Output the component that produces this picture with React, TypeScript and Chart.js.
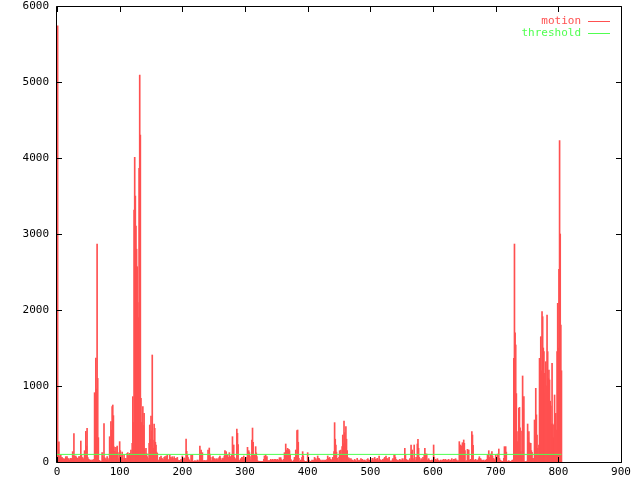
import React, { useEffect, useRef } from "react";
import { Chart, registerables } from "chart.js";

Chart.register(...registerables);

// motion values, one per frame index (x = index)
const motion: number[] = [
  2092, 5738, 160, 267, 70, 41, 92, 55,
  60, 44, 28, 44, 35, 18, 70, 52,
  70, 44, 31, 44, 26, 12, 48, 36,
  48, 136, 58, 373, 79, 45, 79, 62,
  48, 48, 27, 70, 70, 38, 276, 90,
  57, 57, 34, 44, 149, 66, 403, 210,
  443, 61, 40, 31, 26, 14, 26, 9,
  26, 26, 15, 35, 912, 540, 1368, 960,
  2869, 1100, 320, 20, 20, 8, 10, 5,
  123, 70, 36, 504, 57, 30, 44, 21,
  70, 26, 14, 44, 333, 190, 531, 420,
  728, 750, 610, 200, 140, 85, 193, 120,
  210, 48, 30, 123, 268, 150, 92, 64,
  131, 48, 26, 92, 48, 33, 48, 22,
  114, 123, 80, 92, 114, 70, 158, 96,
  246, 860, 520, 3316, 4009, 3500, 3105, 2800,
  2570, 2096, 1900, 3864, 5090, 4300, 838, 520,
  355, 728, 480, 640, 158, 90, 180, 110,
  70, 48, 25, 246, 487, 300, 605, 410,
  1408, 290, 180, 500, 443, 260, 224, 130,
  114, 26, 12, 26, 61, 35, 79, 50,
  44, 35, 20, 61, 70, 42, 79, 55,
  92, 35, 22, 18, 92, 60, 57, 31,
  70, 48, 27, 70, 48, 30, 48, 25,
  61, 26, 14, 18, 18, 9, 35, 20,
  79, 48, 30, 53, 48, 26, 303, 140,
  96, 61, 40, 26, 13, 6, 88, 50,
  92, 13, 7, 4, 18, 10, 13, 6,
  26, 13, 8, 26, 210, 120, 158, 90,
  123, 18, 10, 18, 18, 9, 18, 11,
  26, 158, 90, 184, 105, 60, 18, 9,
  61, 70, 45, 44, 35, 19, 44, 28,
  26, 44, 25, 61, 79, 50, 26, 14,
  44, 53, 31, 79, 149, 95, 136,
  79, 92, 58, 61, 123, 75, 61, 40,
  92, 333, 190, 224, 61, 35, 44, 26,
  434, 377, 230, 26, 18, 10, 44, 24,
  61, 61, 38, 79, 44, 27, 35, 18,
  61, 193, 110, 149, 123, 70, 26, 15,
  290, 447, 260, 26, 92, 55, 202, 120,
  70, 18, 9, 10, 10, 5, 10, 4,
  10, 10, 6, 35, 79, 48, 92, 60,
  70, 18, 9, 18, 18, 8, 35, 20,
  26, 35, 22, 26, 35, 19, 35, 24,
  26, 35, 20, 18, 57, 33, 57, 30,
  26, 13, 6, 35, 123, 80, 237, 150,
  158, 180, 130, 167, 149, 100, 35, 18,
  13, 4, 2, 26, 61, 36, 158, 90,
  412, 421, 260, 48, 9, 4, 26, 14,
  61, 136, 80, 18, 9, 5, 4, 2,
  10, 123, 60, 26, 13, 7, 9, 4,
  26, 13, 7, 26, 61, 37, 44, 25,
  26, 79, 45, 48, 35, 20, 18, 9,
  26, 13, 6, 26, 18, 10, 26, 14,
  35, 79, 47, 26, 61, 38, 35, 20,
  18, 61, 35, 136, 518, 300, 224, 130,
  48, 26, 14, 61, 149, 90, 158, 100,
  202, 355, 240, 540, 386, 250, 465, 300,
  149, 61, 35, 53, 26, 14, 44, 25,
  26, 18, 9, 18, 35, 20, 13, 6,
  48, 18, 10, 26, 13, 7, 44, 24,
  35, 26, 14, 18, 26, 15, 13, 7,
  35, 44, 25, 26, 20, 10, 18, 9,
  48, 26, 15, 44, 61, 36, 35, 19,
  48, 26, 13, 79, 35, 20, 26, 13,
  18, 35, 20, 44, 61, 35, 79, 46,
  26, 44, 25, 61, 18, 9, 13, 6,
  26, 44, 26, 92, 92, 60, 35, 18,
  18, 26, 14, 13, 35, 20, 26, 12,
  44, 26, 13, 44, 180, 100, 35, 19,
  26, 18, 10, 26, 44, 24, 224, 130,
  158, 44, 26, 224, 26, 14, 61, 36,
  237, 298, 180, 61, 26, 13, 44, 25,
  26, 61, 36, 92, 180, 110, 70,
  105, 26, 14, 44, 26, 15, 18, 9,
  26, 20, 11, 224, 61, 36, 35, 19,
  26, 44, 24, 18, 13, 7, 26, 14,
  13, 26, 14, 35, 26, 15, 35, 19,
  18, 26, 13, 35, 18, 9, 26, 14,
  44, 18, 10, 35, 35, 20, 44, 24,
  26, 13, 7, 18, 268, 160, 224, 140,
  210, 254, 170, 290, 246, 150, 13, 6,
  18, 167, 100, 158, 26, 14, 35, 19,
  400, 355, 220, 13, 26, 14, 35, 18,
  13, 26, 13, 44, 70, 42, 44, 25,
  26, 18, 9, 26, 13, 6, 26, 13,
  35, 92, 55, 149, 61, 36, 105, 62,
  136, 79, 46, 44, 30, 16, 92, 54,
  35, 105, 60, 171, 48, 26, 18, 9,
  13, 9, 4, 48, 202, 120, 202, 130,
  13, 0, 3, 18, 9, 4, 9, 5,
  18, 26, 13, 1364, 2868, 1700, 1540, 900,
  399, 268, 160, 706, 719, 450, 136, 80,
  408, 1132, 700, 860, 4, 2, 4, 1,
  13, 500, 320, 399, 254, 160, 246, 150,
  127, 48, 26, 48, 553, 330, 969, 620,
  355, 180, 100, 224, 1364, 900, 1649, 1200,
  1978, 1912, 1500, 1452, 1167, 900, 1320, 1000,
  1934, 1452, 1100, 1211, 1079, 800, 737, 500,
  1298, 500, 320, 487, 882, 600, 640, 420,
  1452, 2088, 1500, 2535, 4228, 3000, 1803, 1200,
];

const thresholdX: number[] = [0, 805];
const thresholdY: number[] = [100, 100];

const xTicks: number[] = [0, 100, 200, 300, 400, 500, 600, 700, 800, 900];
const yTicks: number[] = [0, 1000, 2000, 3000, 4000, 5000, 6000];

const seriesNames: string[] = ["motion", "threshold"];

const RED = "#ff5050";
const GREEN = "#50ff50";
const FONT = '11px "DejaVu Sans Mono", monospace';

const framePlugin = {
  id: "gnuplotFrame",
  afterDraw(chart: any) {
    const { ctx, chartArea } = chart;
    const { left, right, top, bottom } = chartArea;
    const xs = chart.scales.x;
    const ys = chart.scales.y;
    ctx.save();
    ctx.strokeStyle = "#000";
    ctx.lineWidth = 1;
    ctx.beginPath();
    ctx.rect(left - 0.5, top + 0.5, right - left + 1, bottom - top);
    // y ticks, mirrored
    yTicks.forEach((v) => {
      const py = Math.round(ys.getPixelForValue(v)) + 0.5;
      ctx.moveTo(left - 0.5, py);
      ctx.lineTo(left + 5, py);
      ctx.moveTo(right + 0.5, py);
      ctx.lineTo(right - 5, py);
    });
    // x ticks, mirrored
    xTicks.forEach((v) => {
      const px = Math.round(xs.getPixelForValue(v)) + 0.5;
      ctx.moveTo(px, bottom + 0.5);
      ctx.lineTo(px, bottom - 5);
      ctx.moveTo(px, top + 0.5);
      ctx.lineTo(px, top + 6);
    });
    ctx.stroke();

    // legend (text right-aligned, then line sample)
    ctx.font = FONT;
    ctx.textAlign = "right";
    ctx.textBaseline = "middle";
    const colors = [RED, GREEN];
    const rowsY = [21, 33];
    seriesNames.forEach((name, k) => {
      ctx.fillStyle = colors[k];
      ctx.fillText(name, 581, rowsY[k]);
      ctx.strokeStyle = colors[k];
      ctx.beginPath();
      ctx.moveTo(588, rowsY[k] + 0.5);
      ctx.lineTo(610, rowsY[k] + 0.5);
      ctx.stroke();
    });
    ctx.restore();
  },
};

export default function App() {
  const canvasRef = useRef<HTMLCanvasElement | null>(null);

  useEffect(() => {
    const canvas = canvasRef.current;
    if (!canvas) return;
    const chart = new Chart(canvas, {
      type: "bar",
      data: {
        datasets: [
          {
            type: "line",
            label: seriesNames[1],
            data: thresholdX.map((x, k) => ({ x, y: thresholdY[k] })),
            borderColor: GREEN,
            borderWidth: 1,
            pointRadius: 0,
            fill: false,
            order: 0,
          } as any,
          {
            type: "bar",
            label: seriesNames[0],
            data: motion.map((y, i) => ({ x: i, y })),
            backgroundColor: RED,
            borderWidth: 0,
            barThickness: 1,
            grouped: false,
            order: 1,
          } as any,
        ],
      },
      options: {
        animation: false,
        responsive: false,
        devicePixelRatio: 1,
        layout: { padding: { top: 6, right: 19, left: 0, bottom: 0 } },
        plugins: { legend: { display: false }, tooltip: { enabled: false } },
        scales: {
          x: {
            type: "linear",
            min: 0,
            max: 900,
            offset: false,
            grid: { display: false, drawTicks: false },
            border: { display: false },
            afterBuildTicks: (s: any) => {
              s.ticks = xTicks.map((v) => ({ value: v }));
            },
            ticks: {
              color: "#000",
              font: { family: '"DejaVu Sans Mono", monospace', size: 11 },
              padding: 4,
              maxRotation: 0,
              autoSkip: false,
              callback: (v: any) => String(v),
            },
            afterFit: (s: any) => {
              s.height = 18;
              s.paddingLeft = 0;
              s.paddingRight = 0;
            },
          },
          y: {
            type: "linear",
            min: 0,
            max: 6000,
            grid: { display: false, drawTicks: false },
            border: { display: false },
            afterBuildTicks: (s: any) => {
              s.ticks = yTicks.map((v) => ({ value: v }));
            },
            ticks: {
              color: "#000",
              font: { family: '"DejaVu Sans Mono", monospace', size: 11 },
              padding: 8,
              autoSkip: false,
              callback: (v: any) => String(v),
            },
            afterFit: (s: any) => {
              s.width = 57;
              s.paddingTop = 0;
              s.paddingBottom = 0;
            },
          },
        },
      } as any,
      plugins: [framePlugin],
    });
    return () => chart.destroy();
  }, []);

  return (
    <div style={{ position: "absolute", left: 0, top: 0, width: 640, height: 480, background: "#fff" }}>
      <canvas ref={canvasRef} width={640} height={480} style={{ display: "block" }} />
    </div>
  );
}
